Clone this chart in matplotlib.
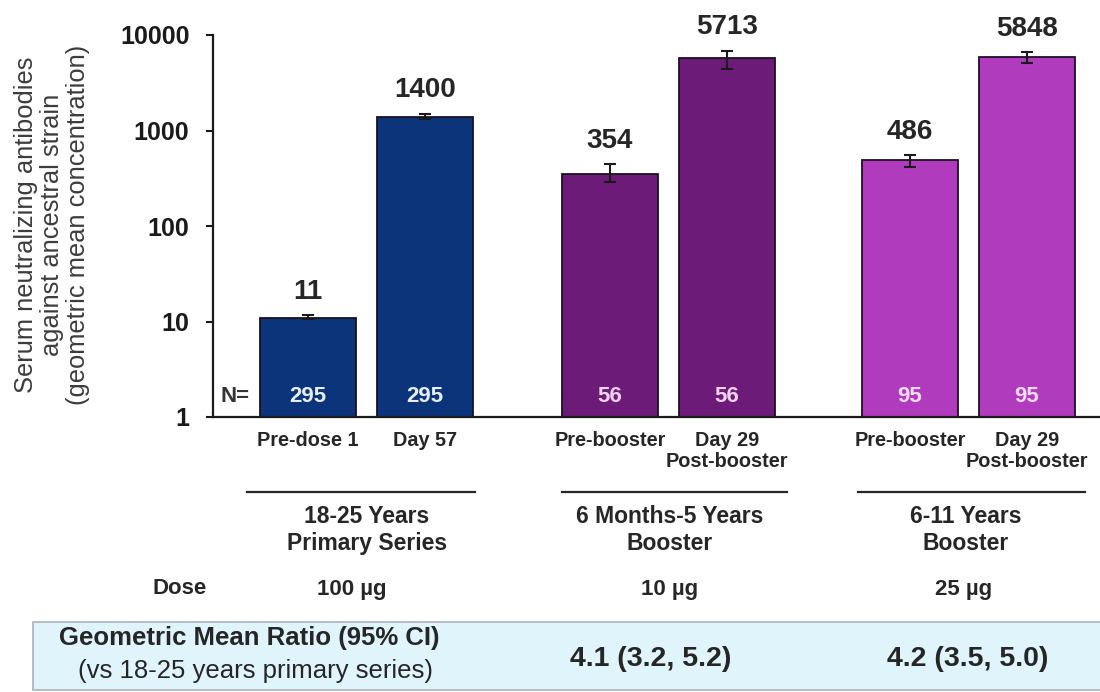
import matplotlib
matplotlib.use("Agg")
import matplotlib.pyplot as plt
from matplotlib.patches import Rectangle
import numpy as np

plt.rcParams['font.family'] = ['Liberation Sans', 'DejaVu Sans']

# ---------------- data ----------------
categories = ["Pre-dose 1", "Day 57", "Pre-booster", "Day 29\nPost-booster",
              "Pre-booster", "Day 29\nPost-booster"]
gmc = [11, 1400, 354, 5713, 486, 5848]
ci_lower = [10.5, 1304, 287, 4400, 412, 5080]
ci_upper = [11.6, 1503, 442, 6800, 551, 6600]
n_values = [295, 295, 56, 56, 95, 95]
groups = ["18-25 Years\nPrimary Series", "6 Months-5 Years\nBooster", "6-11 Years\nBooster"]
doses = ["100 µg", "10 µg", "25 µg"]
gmr = ["4.1 (3.2, 5.2)", "4.2 (3.5, 5.0)"]
yticks = [1, 10, 100, 1000, 10000]

# ---------------- style / layout ----------------
bar_colors = ["#0c347a", "#0c347a", "#6c1b78", "#6c1b78", "#b13bbd", "#b13bbd"]
n_colors = ["#e8eefa", "#e8eefa", "#f5d3f5", "#f5d3f5", "#f7dcf7", "#f7dcf7"]
positions = [0.812, 1.812, 3.393, 4.393, 5.957, 6.957]
bar_width = 0.82
W, H = 1100, 692
AX_L, AX_T, AX_B = 213, 35, 417
UNIT = 117.0
XMAX = (W - AX_L) / UNIT

fig = plt.figure(figsize=(11, 6.92), dpi=100)
ax = fig.add_axes([AX_L / W, 1 - AX_B / H, (W - AX_L) / W, (AX_B - AX_T) / H])
ax.set_yscale('log')
ax.set_ylim(1, 10000)
ax.set_xlim(0, XMAX)

ax.bar(positions, gmc, width=bar_width, color=bar_colors, edgecolor="#1d1020",
       linewidth=1.3, zorder=2)
err = [np.array(gmc) - np.array(ci_lower), np.array(ci_upper) - np.array(gmc)]
ax.errorbar(positions, gmc, yerr=err, fmt='none', ecolor="#1a1a1a",
            elinewidth=1.5, capsize=4, capthick=1.5, zorder=3)

for x, v, up in zip(positions, gmc, ci_upper):
    ax.annotate(f"{v}", xy=(x, up), xytext=(0, 12), textcoords='offset points',
                ha='center', va='baseline', fontsize=20, fontweight='bold',
                color="#262626")

ax.set_yticks(yticks)
ax.set_yticklabels([str(t) for t in yticks], fontsize=18, fontweight='bold',
                   color="#1a1a1a")
ax.yaxis.set_minor_locator(matplotlib.ticker.NullLocator())
ax.tick_params(axis='y', length=5, width=1.5, pad=12, color="#1a1a1a")
ax.set_xticks([])
for s in ['top', 'right']:
    ax.spines[s].set_visible(False)
for s in ['left', 'bottom']:
    ax.spines[s].set_linewidth(1.6)
    ax.spines[s].set_color("#1a1a1a")

# overlay in pixel coordinates
ov = fig.add_axes([0, 0, 1, 1], zorder=5)
ov.set_xlim(0, W)
ov.set_ylim(H, 0)
ov.axis('off')

def px(xdata):
    return AX_L + xdata * UNIT

# N values
ov.text(235, 397, "N=", ha='center', va='center', fontsize=16,
        fontweight='bold', color="#333333")
for x, n, c in zip(positions, n_values, n_colors):
    ov.text(px(x), 397, str(n), ha='center', va='center', fontsize=16,
            fontweight='bold', color=c)

# category labels
for x, lab in zip(positions, categories):
    ov.text(px(x), 431, lab, ha='center', va='top', fontsize=14.3,
            fontweight='bold', color="#262626", linespacing=1.15)

# group lines and labels
line_spans = [(247, 475), (562, 787), (858, 1085)]
label_centers = [367, 670, 966]
dose_centers = [352, 670, 964]
for (x0, x1), xc, xd, g, d in zip(line_spans, label_centers, dose_centers, groups, doses):
    ov.plot([x0, x1], [492, 492], color="#262626", lw=1.6)
    ov.text(xc, 530, g, ha='center', va='center', fontsize=16.5,
            fontweight='bold', color="#262626", linespacing=1.2)
    ov.text(xd, 589, d, ha='center', va='center', fontsize=16,
            fontweight='bold', color="#262626")
ov.text(180, 589, "Dose", ha='center', va='center', fontsize=16,
        fontweight='bold', color="#262626")

# GMR box
ov.add_patch(Rectangle((33, 622), W - 33 + 5, 68, facecolor="#e0f4fc",
                       edgecolor="#a8b3bb", linewidth=1.2))
ov.text(249, 638, "Geometric Mean Ratio (95% CI)", ha='center', va='center',
        fontsize=18.5, fontweight='bold', color="#262626")
ov.text(256, 671, "(vs 18-25 years primary series)", ha='center', va='center',
        fontsize=18.5, color="#262626")
for xc, t in zip([651, 968], gmr):
    ov.text(xc, 659, t, ha='center', va='center', fontsize=20.5,
            fontweight='bold', color="#262626")

# y label
fig.text(52 / W, 1 - 225 / H,
         "Serum neutralizing antibodies\nagainst ancestral strain\n(geometric mean concentration)",
         rotation=90, ha='center', va='center', fontsize=18.4, color="#3c3c3c",
         linespacing=1.1, multialignment='center')

fig.savefig("out.png", dpi=100)
